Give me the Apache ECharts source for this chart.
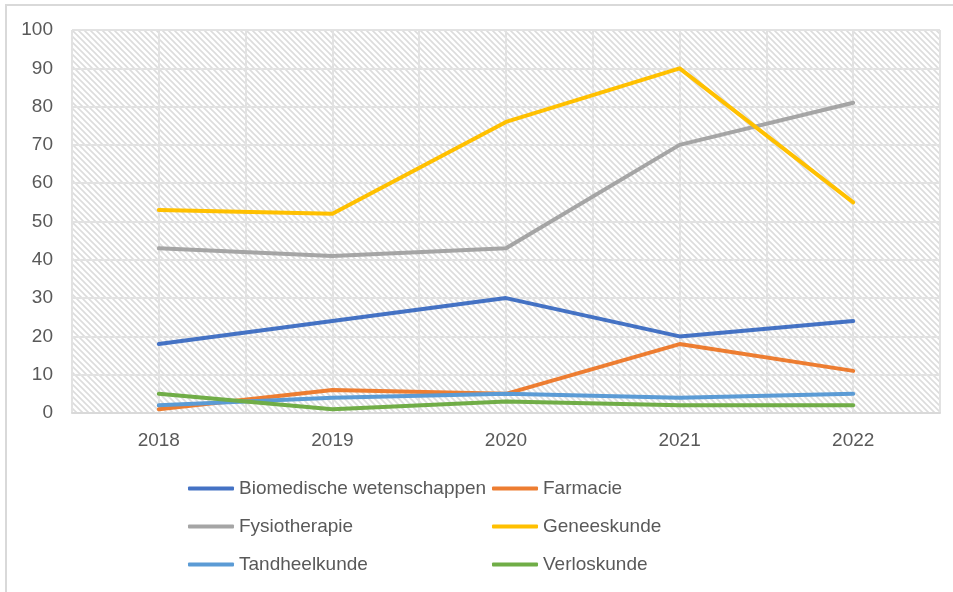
<!DOCTYPE html>
<html>
<head>
<meta charset="utf-8">
<script src="https://cdn.jsdelivr.net/npm/echarts@6/dist/echarts.min.js"></script>
<style>
  html, body { margin: 0; padding: 0; background: #fff; }
  #frame {
    position: absolute; left: 5px; top: 4px; width: 960px; height: 600px;
    border-left: 2px solid #d9d9d9; border-top: 2px solid #d9d9d9;
  }
  #chart { position: absolute; left: 0; top: 0; width: 953px; height: 592px; }
</style>
</head>
<body>
<div id="frame"></div>
<div id="chart"></div>
<script>
// jaren
const years = [2018, 2019, 2020, 2021, 2022];
// waarden per opleiding
const biomedische = [18, 24, 30, 20, 24];
const farmacie = [1, 6, 5, 18, 11];
const fysiotherapie = [43, 41, 43, 70, 81];
const geneeskunde = [53, 52, 76, 90, 55];
const tandheelkunde = [2, 4, 5, 4, 5];
const verloskunde = [5, 1, 3, 2, 2];
const yTicks = [0, 10, 20, 30, 40, 50, 60, 70, 80, 90, 100];

// arcering van het plotvlak
function hatch() {
  const s = 6;
  const c = document.createElement("canvas");
  c.width = s;
  c.height = s;
  const ctx = c.getContext("2d");
  ctx.fillStyle = "#ffffff";
  ctx.fillRect(0, 0, s, s);
  ctx.strokeStyle = "#dcdcdc";
  ctx.lineWidth = 1.6;
  ctx.beginPath();
  for (let k = -s; k <= s; k += s) {
    ctx.moveTo(k - 2, -2);
    ctx.lineTo(k + s + 2, s + 2);
  }
  ctx.stroke();
  return c;
}

const textColor = "#595959";
const font = "Liberation Sans";

function pairs(vals) {
  return years.map((y, i) => [y, vals[i]]);
}

function line(name, vals, color) {
  return {
    name: name,
    type: "line",
    data: pairs(vals),
    symbol: "none",
    lineStyle: { color: color, width: 4, cap: "round", join: "round" },
    itemStyle: { color: color },
  };
}

const legendBase = {
  orient: "vertical",
  top: 479,
  padding: 0,
  itemWidth: 46,
  itemHeight: 4,
  itemGap: 19,
  icon: "roundRect",
  textStyle: { color: textColor, fontSize: 19, fontFamily: font },
};

let myChart = echarts.init(document.getElementById("chart"));
let option = {
  animation: false,
  textStyle: { fontFamily: font },
  grid: {
    left: 72,
    right: 13,
    top: 30,
    bottom: 179,
    show: true,
    borderWidth: 0,
    backgroundColor: { image: hatch(), repeat: "repeat" },
  },
  xAxis: {
    type: "value",
    min: 2017.5,
    max: 2022.5,
    interval: 0.5,
    axisLine: { show: true, lineStyle: { color: "#d9d9d9", width: 2 } },
    axisTick: { show: false },
    splitLine: { show: true, lineStyle: { color: "#e2e2e2", width: 2 } },
    axisLabel: {
      color: textColor,
      fontSize: 19,
      fontFamily: font,
      margin: 18,
      formatter: v => (years.includes(v) ? String(v) : ""),
    },
  },
  yAxis: {
    type: "value",
    min: yTicks[0],
    max: yTicks[yTicks.length - 1],
    interval: 10,
    axisLine: { show: false },
    axisTick: { show: false },
    splitLine: { show: true, lineStyle: { color: "#e2e2e2", width: 2 } },
    axisLabel: { color: textColor, fontSize: 19, fontFamily: font, margin: 19 },
  },
  legend: [
    Object.assign({}, legendBase, {
      left: 188,
      data: ["Biomedische wetenschappen", "Fysiotherapie", "Tandheelkunde"],
    }),
    Object.assign({}, legendBase, {
      left: 492,
      data: ["Farmacie", "Geneeskunde", "Verloskunde"],
    }),
  ],
  series: [
    line("Biomedische wetenschappen", biomedische, "#4472C4"),
    line("Farmacie", farmacie, "#ED7D31"),
    line("Fysiotherapie", fysiotherapie, "#A5A5A5"),
    line("Geneeskunde", geneeskunde, "#FFC000"),
    line("Tandheelkunde", tandheelkunde, "#5B9BD5"),
    line("Verloskunde", verloskunde, "#70AD47"),
  ],
};
myChart.setOption(option);
</script>
</body>
</html>
